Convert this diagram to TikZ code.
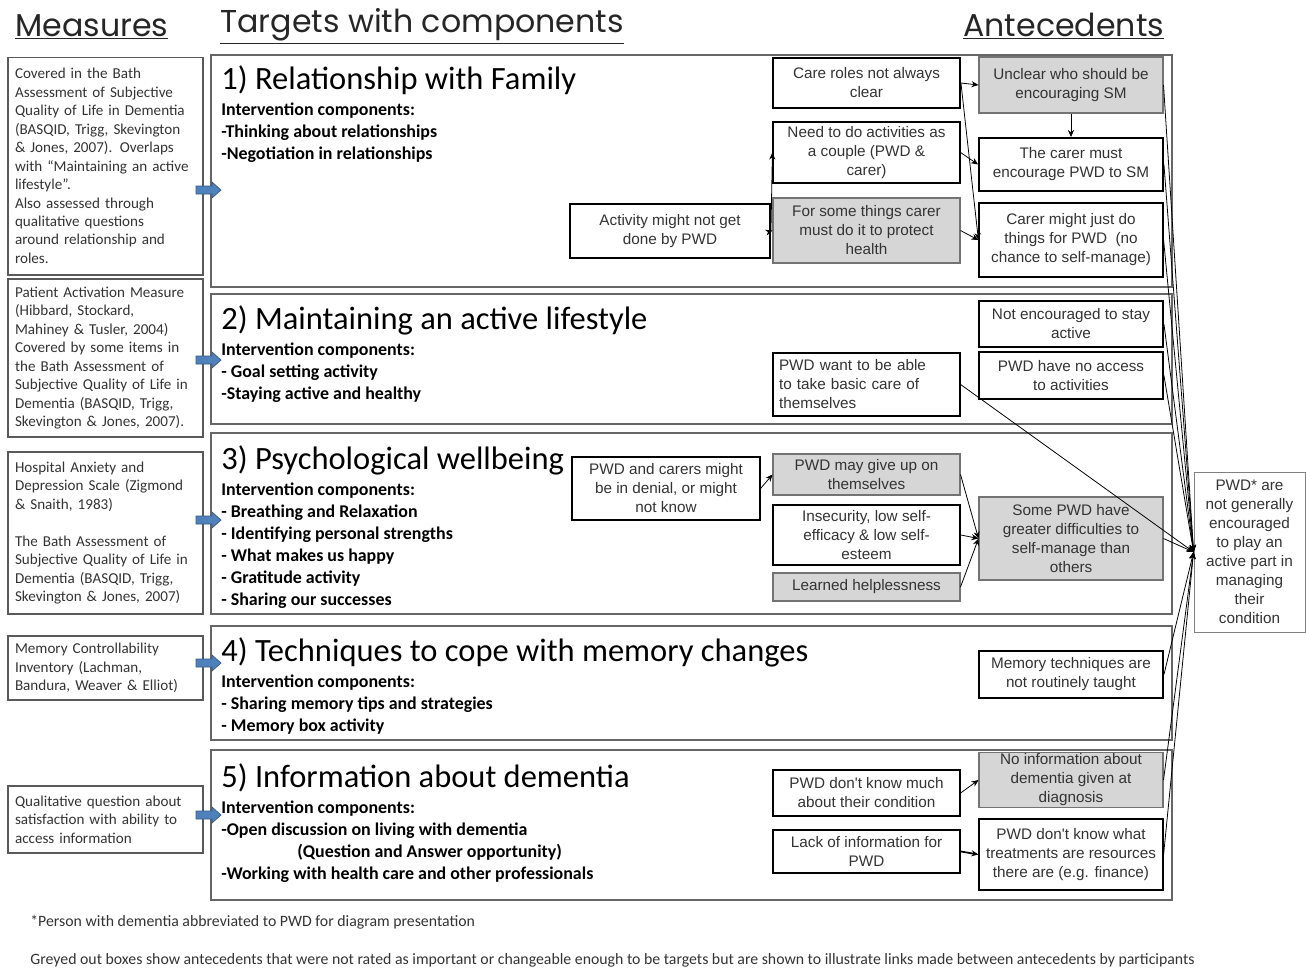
\documentclass[tikz,border=0pt]{standalone}
\usepackage{fontspec}
\setmainfont{Carlito}
\newfontfamily\antfont{Liberation Sans}
\newfontfamily\headfont{Poppins}
\usepackage{xcolor}
\usetikzlibrary{arrows.meta,calc,positioning}
\definecolor{greyfill}{gray}{0.84}
\definecolor{measblue}{RGB}{79,129,189}

\begin{document}
\begin{tikzpicture}[x=0.02cm,y=-0.02cm,
  hdr/.style={font=\headfont\fontsize{18}{20}\selectfont,inner sep=0pt,text=black!85},
  meas/.style={draw=black!65,line width=0.6pt,align=left,inner xsep=0.14cm,inner ysep=0pt,
    text width=3.62cm,font=\fontsize{8.6}{10.5}\selectfont,text=black!80},
  tbox/.style={draw=black!60,line width=0.8pt,minimum width=19.22cm},
  ttl/.style={anchor=west,inner sep=0pt,font=\fontsize{18.5}{20}\selectfont},
  comp/.style={anchor=north west,inner sep=0pt,align=left,font=\bfseries\fontsize{10.2}{12.5}\selectfont},
  ant/.style={draw=black,line width=1.1pt,fill=white,align=center,inner sep=1pt,
    font=\antfont\fontsize{8.7}{10.8}\selectfont,text=black!80},
  antthin/.style={ant,line width=0.7pt},
  grey/.style={ant,fill=greyfill,draw=black!55,line width=0.6pt},
  ar/.style={-{Stealth[length=4pt,width=3.5pt]},line width=0.45pt},
  blockarr/.style={fill=measblue,draw=measblue!70!black,line width=0.4pt}]
\useasboundingbox (0,0) rectangle (1306,968);

% headings
\node[hdr,anchor=base west] (hmeas) at (15,36) {\underline{Measures}};
\node[hdr,anchor=base west] (htarg) at (220,32) {\underline{Targets with components}};
\node[hdr,anchor=base west] (hante) at (963,36) {\underline{Antecedents}};

% measures
\node[meas,minimum height=4.36cm] (m1) at (105.5,166) {Covered in the Bath\\Assessment of Subjective\\Quality of Life in Dementia\\(BASQID, Trigg, Skevington\\\& Jones, 2007). Overlaps\\with ``Maintaining an active\\lifestyle''.\\Also assessed through\\qualitative questions\\around relationship and\\roles.};
\node[meas,minimum height=3.16cm] (m2) at (105.5,358) {Patient Activation Measure\\(Hibbard, Stockard,\\Mahiney \& Tusler, 2004)\\Covered by some items in\\the Bath Assessment of\\Subjective Quality of Life in\\Dementia (BASQID, Trigg,\\Skevington \& Jones, 2007).};
\node[meas,minimum height=3.24cm] (m3) at (105.5,533) {Hospital Anxiety and\\Depression Scale (Zigmond\\\& Snaith, 1983)\\[10.5pt]The Bath Assessment of\\Subjective Quality of Life in\\Dementia (BASQID, Trigg,\\Skevington \& Jones, 2007)};
\node[meas,minimum height=1.28cm] (m4) at (105.5,668) {Memory Controllability\\Inventory (Lachman,\\Bandura, Weaver \& Elliot)};
\node[meas,minimum height=1.34cm] (m5) at (105.5,819.5) {Qualitative question about\\satisfaction with ability to\\access information};

% targets
\node[tbox,minimum height=4.64cm] (t1) at (691.5,171) {};
\node[tbox,minimum height=2.6cm] (t2) at (691.5,359) {};
\node[tbox,minimum height=3.62cm] (t3) at (691.5,523.5) {};
\node[tbox,minimum height=2.28cm] (t4) at (691.5,683) {};
\node[tbox,minimum height=3.0cm] (t5) at (691.5,825) {};

\node[ttl] (t1ttl) at (221,80) {1) Relationship with Family};
\node[comp] (t1comp) at (221,103) {Intervention components:\\-Thinking about relationships\\-Negotiation in relationships};
\node[ttl] (t2ttl) at (221,320) {2) Maintaining an active lifestyle};
\node[comp] (t2comp) at (221,343) {Intervention components:\\- Goal setting activity\\-Staying active and healthy};
\node[ttl] (t3ttl) at (221,460) {3) Psychological wellbeing};
\node[comp] (t3comp) at (221,483) {Intervention components:\\- Breathing and Relaxation\\- Identifying personal strengths\\- What makes us happy\\- Gratitude activity\\- Sharing our successes};
\node[ttl] (t4ttl) at (221,652) {4) Techniques to cope with memory changes};
\node[comp] (t4comp) at (221,675) {Intervention components:\\- Sharing memory tips and strategies\\- Memory box activity};
\node[ttl] (t5ttl) at (221,778) {5) Information about dementia};
\node[comp] (t5comp) at (221,801) {Intervention components:\\-Open discussion on living with dementia\\\hspace*{1.52cm}(Question and Answer opportunity)\\-Working with health care and other professionals};

% measure -> target (block arrows)
\foreach \y in {190,360,520,663,815}
  \filldraw[blockarr] (196,\y-4) -- (212,\y-4) -- (212,\y-8) -- (221,\y) -- (212,\y+8) -- (212,\y+4) -- (196,\y+4) -- cycle;

% antecedents, target 1
\node[ant,minimum width=3.74cm,minimum height=1.0cm] (care) at (866.5,83) {Care roles not always\\clear};
\node[grey,minimum width=3.68cm,minimum height=1.12cm] (unclear) at (1071,85) {Unclear who should be\\encouraging SM};
\node[antthin,minimum width=3.74cm,minimum height=1.22cm] (couple) at (866.5,152.5) {Need to do activities as\\a couple (PWD \&\\carer)};
\node[ant,minimum width=3.68cm,minimum height=1.06cm] (carermust) at (1071,164.5) {The carer must\\encourage PWD to SM};
\node[ant,minimum width=4.0cm,minimum height=1.08cm] (activity) at (670,231) {Activity might not get\\done by PWD};
\node[grey,minimum width=3.74cm,minimum height=1.3cm] (protect) at (866.5,230.5) {For some things carer\\must do it to protect\\health};
\node[antthin,minimum width=3.68cm,minimum height=1.48cm] (justdo) at (1071,240) {Carer might just do\\things for PWD\ \ (no\\chance to self-manage)};

% target 2
\node[ant,minimum width=3.68cm,minimum height=0.92cm] (notenc) at (1071,324) {Not encouraged to stay\\active};
\node[ant,minimum width=3.68cm,minimum height=0.94cm] (noaccess) at (1071,375.5) {PWD have no access\\to activities};
\node[antthin,minimum width=3.74cm,minimum height=1.26cm,align=left,text width=3.5cm] (basic) at (866.5,384.5) {PWD want to be able\\to take basic care of\\themselves};

% target 3
\node[antthin,minimum width=3.76cm,minimum height=1.26cm] (denial) at (666,488.5) {PWD and carers might\\be in denial, or might\\not know};
\node[grey,minimum width=3.74cm,minimum height=0.82cm] (giveup) at (866.5,474.5) {PWD may give up on\\themselves};
\node[ant,minimum width=3.74cm,minimum height=1.2cm] (insec) at (866.5,535) {Insecurity, low self-\\efficacy \& low self-\\esteem};
\node[grey,minimum width=3.74cm,minimum height=0.56cm] (learned) at (866.5,587) {Learned helplessness};
\node[grey,minimum width=3.68cm,minimum height=1.66cm] (some) at (1071,538.5) {Some PWD have\\greater difficulties to\\self-manage than\\others};

% target 4
\node[ant,minimum width=3.68cm,minimum height=0.94cm] (memtech) at (1071,674.5) {Memory techniques are\\not routinely taught};

% target 5
\node[grey,minimum width=3.68cm,minimum height=1.08cm] (noinfo) at (1071,780) {No information about\\dementia given at\\diagnosis};
\node[antthin,minimum width=3.74cm,minimum height=0.92cm] (dontknow) at (866.5,793) {PWD don't know much\\about their condition};
\node[ant,minimum width=3.74cm,minimum height=0.86cm] (lack) at (866.5,851.5) {Lack of information for\\PWD};
\node[antthin,minimum width=3.68cm,minimum height=1.42cm] (treat) at (1071,854.5) {PWD don't know what\\treatments are resources\\there are (e.g. finance)};

% outcome
\node[grey,fill=white,draw=black!50,line width=0.5pt,minimum width=2.22cm,minimum height=3.2cm] (final) at (1249.5,552) {PWD* are\\not generally\\encouraged\\to play an\\active part in\\managing\\their\\condition};

% links between antecedents
\draw[ar] (care.east) -- (unclear.west);
\draw[ar] (unclear.south) -- (carermust.north);
\draw[ar] (care.east) -- (justdo.west);
\draw[ar] (couple.east) -- (carermust.west);
\draw[ar] (activity.east) -- (couple.west);
\draw[ar] (activity.east) -- (protect.west);
\draw[ar] (protect.east) -- (justdo.west);
\draw[ar] (denial.east) -- (giveup.west);
\draw[ar] (giveup.east) -- (some.west);
\draw[ar] (insec.east) -- (some.west);
\draw[ar] (learned.east) -- (some.west);
\draw[ar] (dontknow.east) -- (noinfo.west);
\draw[ar,line width=1pt] (lack.east) -- (treat.west);

% everything into the outcome
\foreach \src in {unclear,carermust,justdo,notenc,noaccess,basic,some,memtech,noinfo,treat}
  \draw[ar] (\src.east) -- (final.west);

% notes
\node[anchor=base west,inner sep=0pt,font=\fontsize{9}{10}\selectfont,text=black!80] (note1) at (30,926) {*Person with dementia abbreviated to PWD for diagram presentation};
\node[anchor=base west,inner sep=0pt,font=\fontsize{9}{10}\selectfont,text=black!80] (note2) at (30,964) {Greyed out boxes show antecedents that were not rated as important or changeable enough to be targets but are shown to illustrate links made between antecedents by participants};
\end{tikzpicture}
\end{document}
